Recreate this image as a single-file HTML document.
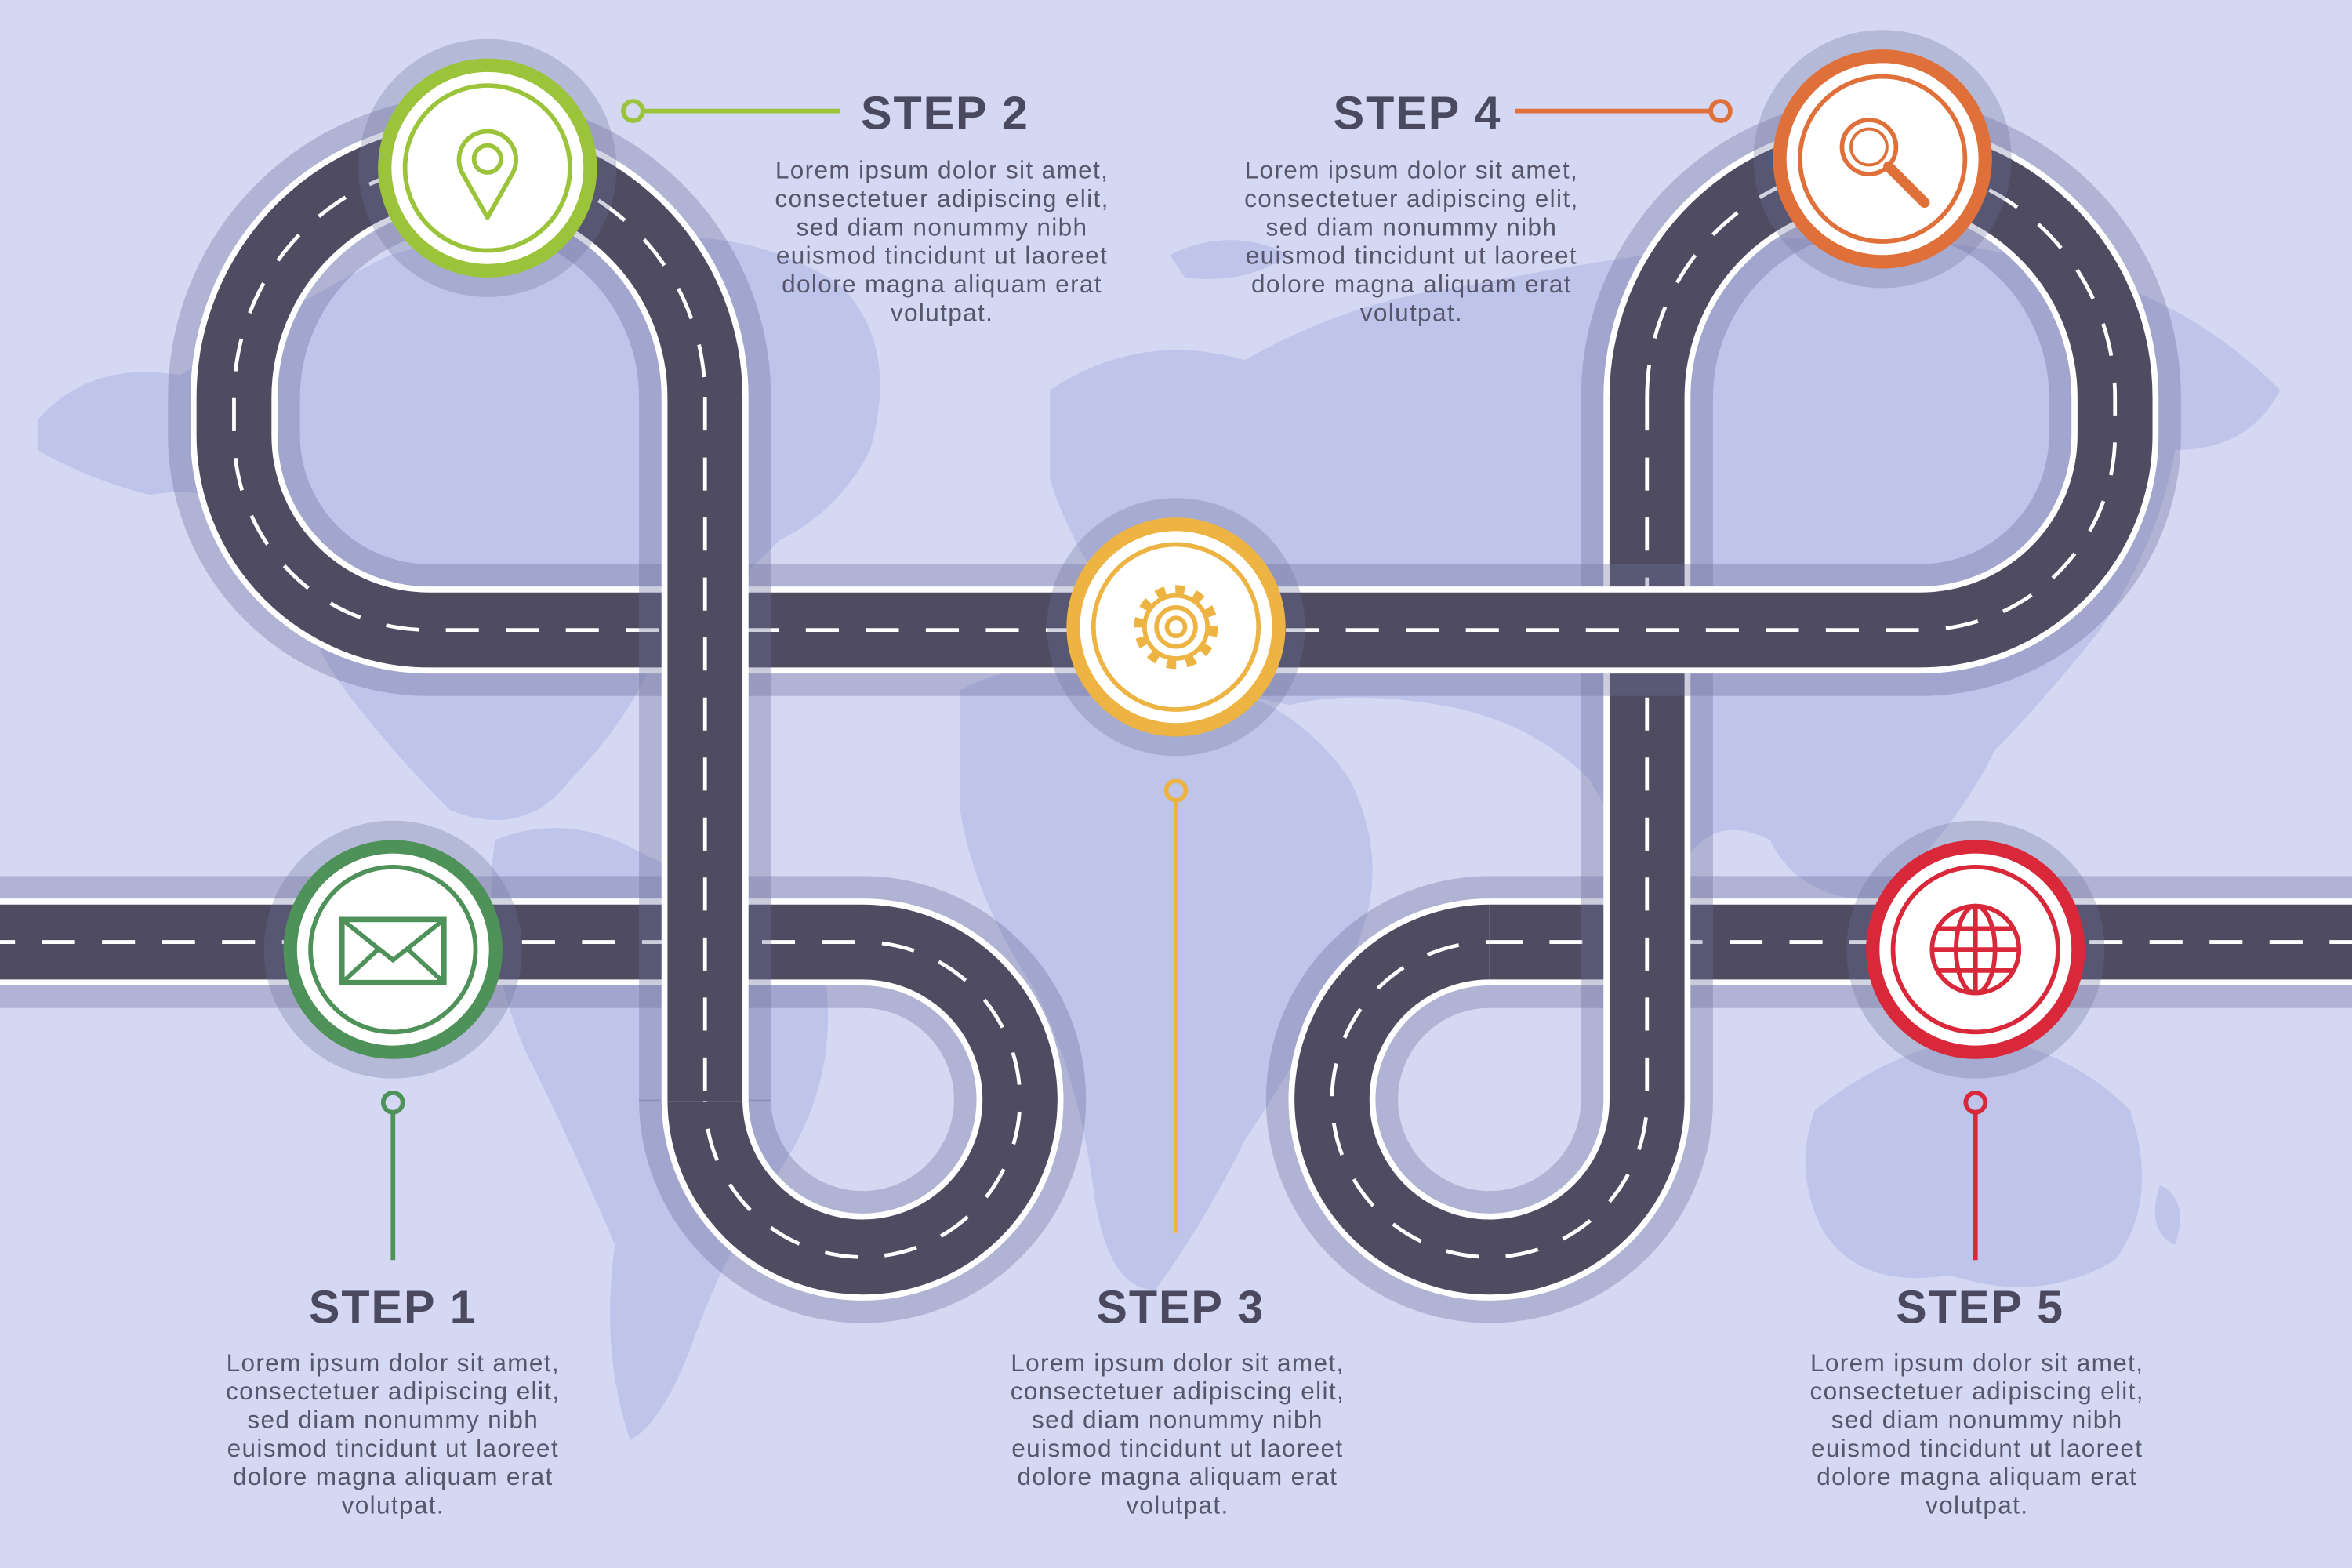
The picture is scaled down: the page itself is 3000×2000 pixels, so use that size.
<!DOCTYPE html>
<html><head><meta charset="utf-8"><style>
html,body{margin:0;padding:0;background:#d5d8f2;}
svg{display:block}
.t{font-family:"Liberation Sans",sans-serif;font-weight:bold;font-size:31px;letter-spacing:1px;fill:#4a4960;}
.p{font-family:"Liberation Sans",sans-serif;font-size:16.5px;letter-spacing:0.7px;fill:#57566c;text-anchor:middle;}
</style></head><body>
<svg width="3000" height="2000" viewBox="0 0 1568 1045.3" preserveAspectRatio="none" xmlns="http://www.w3.org/2000/svg">
<rect width="1568" height="1046" fill="#d5d8f2"/>
<g fill="#bfc4ea">
<path d="M25 280 Q60 240 120 250 Q200 200 260 170 Q330 150 420 160 Q500 150 560 190 Q600 230 580 300 Q560 340 520 360 Q480 400 440 430 Q420 480 380 520 Q350 560 300 540 Q260 500 230 460 Q200 420 190 360 Q150 320 100 330 Q60 320 25 300 Z"/>
<path d="M330 560 Q380 540 430 570 Q500 600 550 650 Q560 720 520 780 Q480 840 460 900 Q440 950 420 960 Q400 900 410 830 Q380 760 350 700 Q320 630 330 560 Z"/>
<path d="M640 460 Q700 430 780 450 Q860 460 900 520 Q930 580 900 640 Q870 700 830 760 Q800 820 770 860 Q740 860 730 800 Q720 720 690 660 Q650 600 640 540 Z"/>
<path d="M700 260 Q760 220 830 240 Q900 200 980 190 Q1080 170 1180 160 Q1280 150 1380 180 Q1460 200 1520 260 Q1500 300 1450 300 Q1440 360 1400 420 Q1360 470 1330 500 Q1300 560 1250 600 Q1200 600 1180 560 Q1140 540 1120 580 Q1080 560 1060 520 Q1020 480 960 470 Q900 460 860 470 Q800 460 760 420 Q720 380 700 320 Z"/>
<path d="M1210 740 Q1260 700 1320 690 Q1380 700 1420 740 Q1440 800 1410 840 Q1360 870 1300 850 Q1240 860 1215 820 Q1195 780 1210 740 Z"/>
<path d="M1440 790 Q1460 800 1450 830 Q1430 820 1440 790 Z"/>
<path d="M1160 110 Q1200 100 1230 120 Q1200 140 1160 130 Z"/>
<path d="M780 170 Q820 150 860 170 Q830 190 790 185 Z"/>
</g>

<g fill="none" stroke-linejoin="round">
 <g>
  <path d="M993 628 H1580" stroke="#6e6f9c" stroke-opacity="0.35" stroke-width="88"/>
  <path d="M993 628 H1580" stroke="#fff" stroke-width="58"/>
  <path d="M993 628 H1580" stroke="#4f4c62" stroke-width="50"/>
  <path d="M993 628 H1580" stroke="#fff" stroke-width="2.5" stroke-dasharray="22 18"/>
 </g>
 <g>
  <path d="M1098 265 V733 A105 105 0 1 1 993 628" stroke="#6e6f9c" stroke-opacity="0.35" stroke-width="88"/>
  <path d="M1098 265 V733 A105 105 0 1 1 993 628" stroke="#fff" stroke-width="58"/>
  <path d="M1098 265 V733 A105 105 0 1 1 993 628" stroke="#4f4c62" stroke-width="50"/>
  <path d="M1098 265 V733 A105 105 0 1 1 993 628" stroke="#fff" stroke-width="2.5" stroke-dasharray="22 18"/>
 </g>
 <g>
  <path d="M1098 265 A156 156 0 0 1 1410 265 V290 A130 130 0 0 1 1280 420 H286 A130 130 0 0 1 156 290 V265 A157 157 0 0 1 470 265" stroke="#6e6f9c" stroke-opacity="0.35" stroke-width="88"/>
  <path d="M1098 265 A156 156 0 0 1 1410 265 V290 A130 130 0 0 1 1280 420 H286 A130 130 0 0 1 156 290 V265 A157 157 0 0 1 470 265" stroke="#fff" stroke-width="58"/>
  <path d="M1098 265 A156 156 0 0 1 1410 265 V290 A130 130 0 0 1 1280 420 H286 A130 130 0 0 1 156 290 V265 A157 157 0 0 1 470 265" stroke="#4f4c62" stroke-width="50"/>
  <path d="M1098 265 A156 156 0 0 1 1410 265 V290 A130 130 0 0 1 1280 420 H286 A130 130 0 0 1 156 290 V265 A157 157 0 0 1 470 265" stroke="#fff" stroke-width="2.5" stroke-dasharray="22 18"/>
 </g>
 <g>
  <path d="M-12 628 H575 A105 105 0 1 1 470 733" stroke="#6e6f9c" stroke-opacity="0.35" stroke-width="88"/>
  <path d="M-12 628 H575 A105 105 0 1 1 470 733" stroke="#fff" stroke-width="58"/>
  <path d="M-12 628 H575 A105 105 0 1 1 470 733" stroke="#4f4c62" stroke-width="50"/>
  <path d="M-12 628 H575 A105 105 0 1 1 470 733" stroke="#fff" stroke-width="2.5" stroke-dasharray="22 18"/>
 </g>
 <g>
  <path d="M470 265 V734" stroke="#6e6f9c" stroke-opacity="0.35" stroke-width="88"/>
  <path d="M470 265 V734" stroke="#fff" stroke-width="58"/>
  <path d="M470 265 V734" stroke="#4f4c62" stroke-width="50"/>
  <path d="M470 265 V734" stroke="#fff" stroke-width="2.5" stroke-dasharray="22 18"/>
 </g>
</g>

<g>
 <circle cx="325" cy="112" r="86" fill="#6e6f9c" fill-opacity="0.3"/>
 <circle cx="325" cy="112" r="73" fill="#9cc43a"/>
 <circle cx="325" cy="112" r="64" fill="#fff"/>
 <circle cx="325" cy="112" r="55" fill="none" stroke="#9cc43a" stroke-width="3"/>
 <path d="M325 145 L308 115 A19 19 0 1 1 342 115 Z" fill="none" stroke="#9cc43a" stroke-width="3" stroke-linejoin="round"/>
 <circle cx="325" cy="106" r="9" fill="none" stroke="#9cc43a" stroke-width="3"/>

 <circle cx="1255" cy="106" r="86" fill="#6e6f9c" fill-opacity="0.3"/>
 <circle cx="1255" cy="106" r="73" fill="#e0703a"/>
 <circle cx="1255" cy="106" r="64" fill="#fff"/>
 <circle cx="1255" cy="106" r="55" fill="none" stroke="#e0703a" stroke-width="3"/>
 <circle cx="1246" cy="98" r="18" fill="none" stroke="#e0703a" stroke-width="3"/>
 <circle cx="1246" cy="98" r="12" fill="none" stroke="#e0703a" stroke-width="2"/>
 <path d="M1259 111 L1283 135" stroke="#e0703a" stroke-width="7" stroke-linecap="round"/>

 <circle cx="784" cy="418" r="86" fill="#6e6f9c" fill-opacity="0.3"/>
 <circle cx="784" cy="418" r="73" fill="#edb443"/>
 <circle cx="784" cy="418" r="64" fill="#fff"/>
 <circle cx="784" cy="418" r="55" fill="none" stroke="#edb443" stroke-width="3"/>
 <circle cx="784" cy="418" r="24" fill="none" stroke="#edb443" stroke-width="8" stroke-dasharray="6 6.5"/>
 <circle cx="784" cy="418" r="21" fill="none" stroke="#edb443" stroke-width="3"/>
 <circle cx="784" cy="418" r="13" fill="none" stroke="#edb443" stroke-width="3"/>
 <circle cx="784" cy="418" r="6" fill="none" stroke="#edb443" stroke-width="3"/>

 <circle cx="262" cy="633" r="86" fill="#6e6f9c" fill-opacity="0.3"/>
 <circle cx="262" cy="633" r="73" fill="#4e9159"/>
 <circle cx="262" cy="633" r="64" fill="#fff"/>
 <circle cx="262" cy="633" r="55" fill="none" stroke="#4e9159" stroke-width="3"/>
 <rect x="228" y="613" width="68" height="42" fill="none" stroke="#4e9159" stroke-width="3.5"/>
 <path d="M228 613 L262 640 L296 613 M228 655 L252 633 M296 655 L272 633" fill="none" stroke="#4e9159" stroke-width="3"/>

 <circle cx="1317" cy="633" r="86" fill="#6e6f9c" fill-opacity="0.3"/>
 <circle cx="1317" cy="633" r="73" fill="#d9283a"/>
 <circle cx="1317" cy="633" r="64" fill="#fff"/>
 <circle cx="1317" cy="633" r="55" fill="none" stroke="#d9283a" stroke-width="3"/>
 <circle cx="1317" cy="633" r="29" fill="none" stroke="#d9283a" stroke-width="3"/>
 <ellipse cx="1317" cy="633" rx="13" ry="29" fill="none" stroke="#d9283a" stroke-width="3"/>
 <path d="M1317 604 V662 M1288 633 H1346 M1292 619 H1342 M1292 647 H1342" stroke="#d9283a" stroke-width="3"/>
</g>

<g fill="none" stroke-width="3">
 <path d="M428 74 H560" stroke="#9cc43a"/><circle cx="422" cy="74" r="6.5" stroke="#9cc43a"/>
 <path d="M1010 74 H1141" stroke="#e0703a"/><circle cx="1147" cy="74" r="6.5" stroke="#e0703a"/>
 <path d="M262 741 V840" stroke="#4e9159"/><circle cx="262" cy="735" r="6.5" stroke="#4e9159"/>
 <path d="M784 533 V822" stroke="#edb443"/><circle cx="784" cy="527" r="6.5" stroke="#edb443"/>
 <path d="M1317 741 V840" stroke="#d9283a"/><circle cx="1317" cy="735" r="6.5" stroke="#d9283a"/>
</g>

<text class="t" x="630" y="86" text-anchor="middle">STEP 2</text>
<g class="p"><text x="628" y="119">Lorem ipsum dolor sit amet,</text><text x="628" y="138">consectetuer adipiscing elit,</text><text x="628" y="157">sed diam nonummy nibh</text><text x="628" y="176">euismod tincidunt ut laoreet</text><text x="628" y="195">dolore magna aliquam erat</text><text x="628" y="214">volutpat.</text></g>

<text class="t" x="945" y="86" text-anchor="middle">STEP 4</text>
<g class="p"><text x="941" y="119">Lorem ipsum dolor sit amet,</text><text x="941" y="138">consectetuer adipiscing elit,</text><text x="941" y="157">sed diam nonummy nibh</text><text x="941" y="176">euismod tincidunt ut laoreet</text><text x="941" y="195">dolore magna aliquam erat</text><text x="941" y="214">volutpat.</text></g>

<text class="t" x="262" y="882" text-anchor="middle">STEP 1</text>
<g class="p"><text x="262" y="914">Lorem ipsum dolor sit amet,</text><text x="262" y="933">consectetuer adipiscing elit,</text><text x="262" y="952">sed diam nonummy nibh</text><text x="262" y="971">euismod tincidunt ut laoreet</text><text x="262" y="990">dolore magna aliquam erat</text><text x="262" y="1009">volutpat.</text></g>

<text class="t" x="787" y="882" text-anchor="middle">STEP 3</text>
<g class="p"><text x="785" y="914">Lorem ipsum dolor sit amet,</text><text x="785" y="933">consectetuer adipiscing elit,</text><text x="785" y="952">sed diam nonummy nibh</text><text x="785" y="971">euismod tincidunt ut laoreet</text><text x="785" y="990">dolore magna aliquam erat</text><text x="785" y="1009">volutpat.</text></g>

<text class="t" x="1320" y="882" text-anchor="middle">STEP 5</text>
<g class="p"><text x="1318" y="914">Lorem ipsum dolor sit amet,</text><text x="1318" y="933">consectetuer adipiscing elit,</text><text x="1318" y="952">sed diam nonummy nibh</text><text x="1318" y="971">euismod tincidunt ut laoreet</text><text x="1318" y="990">dolore magna aliquam erat</text><text x="1318" y="1009">volutpat.</text></g>
</svg>
</body></html>
